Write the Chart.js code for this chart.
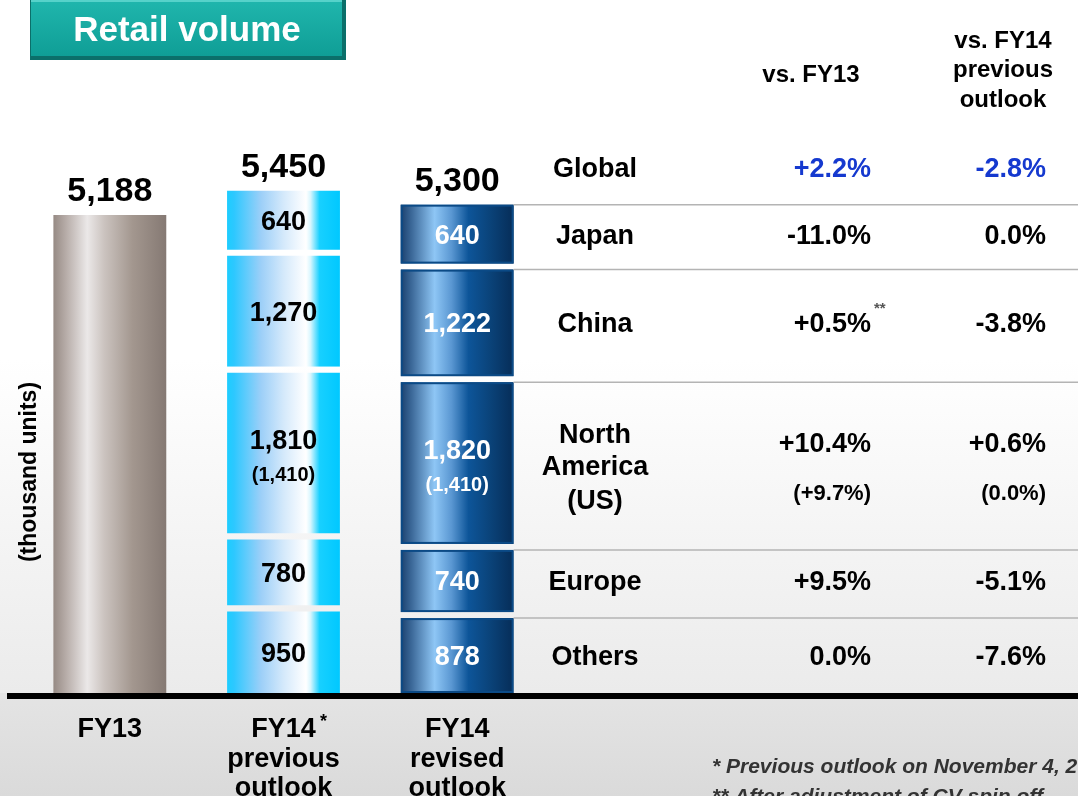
<!DOCTYPE html>
<html>
<head>
<meta charset="utf-8">
<title>Retail volume</title>
<script src="https://cdn.jsdelivr.net/npm/chart.js@4.4.1/dist/chart.umd.min.js"></script>
<style>
  html, body { margin: 0; padding: 0; background: #fff; }
  #wrap { width: 1078px; height: 796px; }
</style>
</head>
<body>
<div id="wrap"><canvas id="volumeChart" width="1078" height="796"></canvas></div>
<script>
// Data (thousand units)
const categories = [["FY13"], ["FY14", "previous", "outlook"], ["FY14", "revised", "outlook"]];
const fy13Volume = 5188;
const regions = ["Others", "Europe", "North America", "China", "Japan"];   // bottom -> top
const previousOutlook = [950, 780, 1810, 1270, 640];
const revisedOutlook = [878, 740, 1820, 1222, 640];
const usPrevious = 1410;
const usRevised = 1410;

// Right hand table, top -> bottom
const tableRows = ["Global", "Japan", "China", "North America", "Europe", "Others"];
const vsFY13 = [2.2, -11.0, 0.5, 10.4, 9.5, 0.0];
const vsPrevious = [-2.8, 0.0, -3.8, 0.6, -5.1, -7.6];
const usVsFY13 = 9.7;
const usVsPrevious = 0.0;

const FONT = "'Liberation Sans', Arial, Helvetica, sans-serif";
const GAP = 6;
const BAR_PCT = 0.65;

// horizontal gradients for each column
const barStops = [
    [[0, "#968a84"], [0.12, "#b9afab"], [0.3, "#ebe8e8"], [0.45, "#cbc3bf"], [0.7, "#a3978f"], [1, "#857973"]],
    [[0, "#1dcdff"], [0.06, "#2cc8ff"], [0.3, "#9ccff8"], [0.5, "#d4e9fb"], [0.7, "#ffffff"], [0.74, "#d8f6fe"], [0.82, "#18d0ff"], [1, "#00c8ff"]],
    [[0, "#1a406e"], [0.1, "#3d6a9a"], [0.3, "#8ec6f5"], [0.45, "#5a97d2"], [0.6, "#0d5599"], [0.8, "#0a4278"], [1, "#062d58"]]
];

function font(size, style) {
    return (style || "bold") + " " + size + "px " + FONT;
}

function fmt(n) {
    return n.toLocaleString("en-US");
}

function pct(n) {
    return (n > 0 ? "+" : "") + n.toFixed(1) + "%";
}

function sum(arr) {
    return arr.reduce((a, b) => a + b, 0);
}

function barFill(ctx) {
    const chart = ctx.chart;
    const xs = chart.scales.x;
    const stops = barStops[ctx.dataIndex] || barStops[0];
    if (!chart.chartArea || !xs) return stops[0][1];
    const cx = xs.getPixelForValue(ctx.dataIndex);
    const half = xs.width / categories.length * BAR_PCT / 2;
    const g = chart.ctx.createLinearGradient(cx - half, 0, cx + half, 0);
    stops.forEach(s => g.addColorStop(s[0], s[1]));
    return g;
}

// 'middle' sits a bit high for digits, nudge down
function text(c, str, x, y, size, color, align, style) {
    c.font = font(size, style);
    c.fillStyle = color;
    c.textAlign = align || "center";
    c.textBaseline = "middle";
    c.fillText(str, x, y + 2);
}

const decorPlugin = {
    id: "retailDecor",
    beforeDraw(chart) {
        const c = chart.ctx;
        const W = chart.width, H = chart.height;
        const base = chart.chartArea.bottom;
        c.save();
        c.fillStyle = "#ffffff";
        c.fillRect(0, 0, W, H);
        let g = c.createLinearGradient(0, 360, 0, base);
        g.addColorStop(0, "#ffffff");
        g.addColorStop(1, "#ebebeb");
        c.fillStyle = g;
        c.fillRect(0, 360, W, base - 360);
        g = c.createLinearGradient(0, base, 0, H);
        g.addColorStop(0, "#e4e4e4");
        g.addColorStop(1, "#dadada");
        c.fillStyle = g;
        c.fillRect(0, base, W, H - base);
        c.restore();
    },
    afterDatasetsDraw(chart) {
        const c = chart.ctx;
        const area = chart.chartArea;
        const topIdx = regions.length - 1;
        const fy13Meta = chart.getDatasetMeta(0);
        const regionMeta = regions.map((r, i) => chart.getDatasetMeta(i + 1));
        c.save();

        // dark frame round the revised segments
        regionMeta.forEach((meta, i) => {
            const el = meta.data[2];
            const top = el.y + (i === topIdx ? 0 : GAP);
            c.strokeStyle = "#0b4a86";
            c.lineWidth = 2;
            c.strokeRect(el.x - el.width / 2 + 1, top + 1, el.width - 2, el.base - top - 2);
        });

        // values inside the segments
        regionMeta.forEach((meta, i) => {
            [1, 2].forEach(idx => {
                const el = meta.data[idx];
                const top = el.y + (i === topIdx ? 0 : GAP);
                const mid = (top + el.base) / 2;
                const val = idx === 1 ? previousOutlook[i] : revisedOutlook[i];
                const col = idx === 1 ? "#000000" : "#ffffff";
                if (regions[i] === "North America") {
                    text(c, fmt(val), el.x, mid - 14, 27, col);
                    text(c, "(" + fmt(idx === 1 ? usPrevious : usRevised) + ")", el.x, mid + 20, 20, col);
                } else {
                    text(c, fmt(val), el.x, mid, 27, col);
                }
            });
        });

        // totals above the bars
        const totals = [fy13Volume, sum(previousOutlook), sum(revisedOutlook)];
        const tops = [fy13Meta.data[0], regionMeta[topIdx].data[1], regionMeta[topIdx].data[2]];
        tops.forEach((el, i) => text(c, fmt(totals[i]), el.x, el.y - 25, 34, "#000000"));

        // base line
        c.fillStyle = "#000000";
        c.fillRect(7, area.bottom, chart.width - 7, 6);

        // table rows lined up with the revised segments
        const labelX = 595, col1 = 871, col2 = 1046;
        const revTop = regionMeta[topIdx].data[2].y;
        tableRows.forEach((row, k) => {
            let y;
            if (row === "Global") {
                y = revTop - 37;
            } else {
                const i = regions.indexOf(row);
                const el = regionMeta[i].data[2];
                const top = el.y + (i === topIdx ? 0 : GAP);
                y = (top + el.base) / 2;
                c.strokeStyle = "#b4b4b4";
                c.lineWidth = 1.5;
                c.beginPath();
                c.moveTo(el.x + el.width / 2, top);
                c.lineTo(chart.width, top);
                c.stroke();
            }
            const col = row === "Global" ? "#1539cf" : "#000000";
            if (row === "North America") {
                text(c, "North", labelX, y - 30, 27, "#000000");
                text(c, "America", labelX, y + 2, 27, "#000000");
                text(c, "(US)", labelX, y + 36, 27, "#000000");
                text(c, pct(vsFY13[k]), col1, y - 21, 27, col, "right");
                text(c, pct(vsPrevious[k]), col2, y - 21, 27, col, "right");
                text(c, "(" + pct(usVsFY13) + ")", col1, y + 29, 22, col, "right");
                text(c, "(" + pct(usVsPrevious) + ")", col2, y + 29, 22, col, "right");
            } else {
                text(c, row, labelX, y, 27, "#000000");
                text(c, pct(vsFY13[k]), col1, y, 27, col, "right");
                text(c, pct(vsPrevious[k]), col2, y, 27, col, "right");
            }
            if (row === "China") {
                text(c, "**", col1 + 3, y - 16, 15, "#555555", "left");
            }
        });
        c.restore();
    },
    afterDraw(chart) {
        const c = chart.ctx;
        const xs = chart.scales.x;
        c.save();

        // title box
        c.fillStyle = "#0b6f6a";
        c.fillRect(30, 0, 316, 60);
        const g = c.createLinearGradient(0, 0, 0, 56);
        g.addColorStop(0, "#20b6ad");
        g.addColorStop(1, "#0f9e96");
        c.fillStyle = g;
        c.fillRect(31, 0, 311, 56);
        c.fillStyle = "#56d2ca";
        c.fillRect(31, 0, 311, 2);
        text(c, "Retail volume", 187, 29, 35, "#ffffff");

        // column headers
        text(c, "vs. FY13", 811, 73, 24, "#000000");
        text(c, "vs. FY14", 1003, 39, 24, "#000000");
        text(c, "previous", 1003, 68, 24, "#000000");
        text(c, "outlook", 1003, 98, 24, "#000000");

        // star next to FY14 previous outlook
        text(c, "*", xs.getPixelForValue(1) + 40, 720, 18, "#000000");

        // y axis caption
        c.translate(30, 472);
        c.rotate(-Math.PI / 2);
        text(c, "(thousand units)", 0, -2, 23, "#000000");
        c.setTransform(1, 0, 0, 1, 0, 0);

        // footnotes
        c.font = font(21, "italic bold");
        c.fillStyle = "#333333";
        c.textAlign = "left";
        c.textBaseline = "alphabetic";
        c.fillText("* Previous outlook on November 4, 2013", 712, 773);
        c.fillText("** After adjustment of CV spin off", 712, 803);
        c.restore();
    }
};

document.addEventListener("DOMContentLoaded", function () {
    const datasets = [{
        label: "FY13",
        data: [fy13Volume, null, null],
        backgroundColor: barFill,
        borderWidth: 0
    }];
    regions.forEach((region, i) => {
        datasets.push({
            label: region,
            data: [null, previousOutlook[i], revisedOutlook[i]],
            backgroundColor: barFill,
            borderColor: "rgba(0,0,0,0)",
            borderWidth: i === regions.length - 1 ? 0 : { top: GAP, bottom: 0, left: 0, right: 0 },
            borderSkipped: "start"
        });
    });

    new Chart(document.getElementById("volumeChart"), {
        type: "bar",
        data: { labels: categories, datasets: datasets },
        options: {
            responsive: false,
            animation: false,
            devicePixelRatio: 1,
            categoryPercentage: 1,
            barPercentage: BAR_PCT,
            layout: { padding: { top: 48, left: 23, right: 534, bottom: 0 } },
            plugins: {
                legend: { display: false },
                tooltip: { enabled: false }
            },
            scales: {
                x: {
                    stacked: true,
                    grid: { display: false, drawTicks: false },
                    border: { display: false },
                    ticks: {
                        color: "#000000",
                        font: { family: FONT, size: 27, weight: "bold", lineHeight: 1.09 },
                        padding: 22,
                        maxRotation: 0,
                        autoSkip: false
                    },
                    afterFit: function (scale) { scale.height = 103; }
                },
                y: {
                    stacked: true,
                    display: false,
                    min: 0,
                    max: 7000
                }
            }
        },
        plugins: [decorPlugin]
    });
});
</script>
</body>
</html>
